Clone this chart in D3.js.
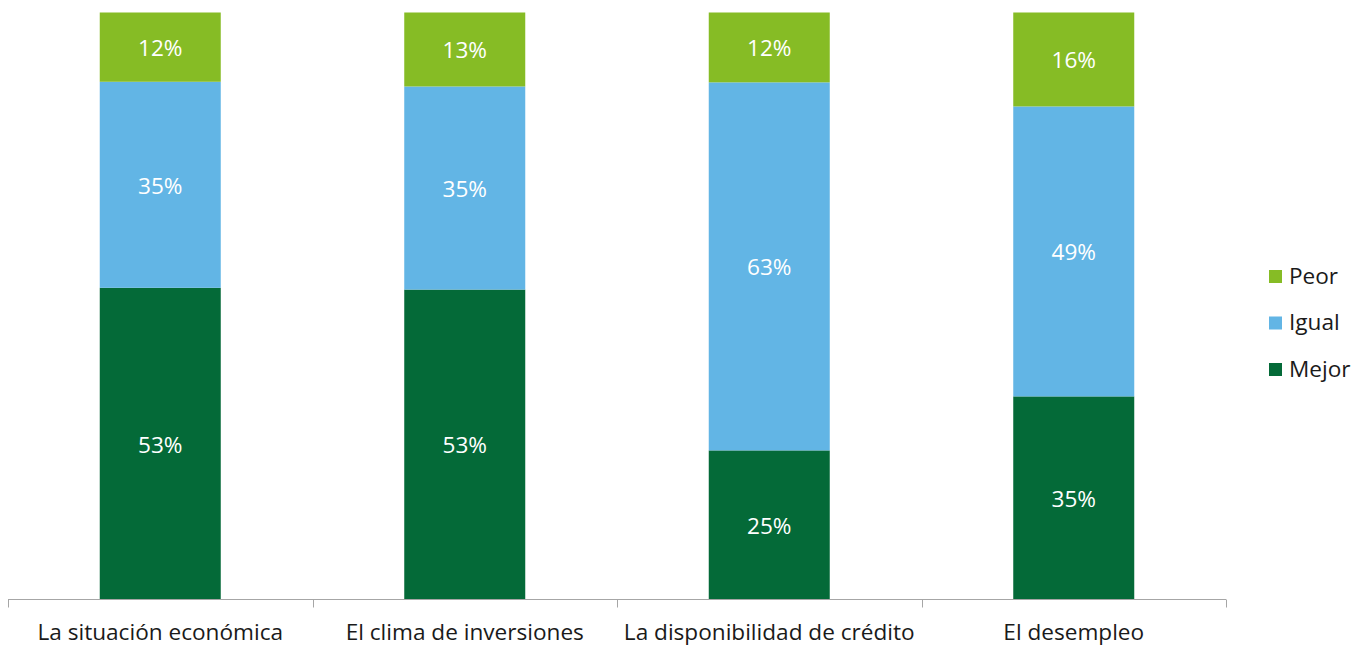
<!DOCTYPE html>
<html>
<head>
<meta charset="utf-8">
<script src="https://cdn.jsdelivr.net/npm/d3@7"></script>
<style>
  html, body { margin: 0; padding: 0; background: #fff; }
  svg { display: block; font-family: "Open Sans", sans-serif; }
</style>
</head>
<body>
<svg id="chart" width="1365" height="646"></svg>
<script>
const categories = ["La situación económica", "El clima de inversiones", "La disponibilidad de crédito", "El desempleo"];
const seriesNames = ["Mejor", "Igual", "Peor"];
const mejor = [53.1, 52.8, 25.4, 34.6];
const igual = [35.1, 34.6, 62.7, 49.4];
const peor  = [11.8, 12.6, 11.9, 16.0];
const labelMejor = ["53%", "53%", "25%", "35%"];
const labelIgual = ["35%", "35%", "63%", "49%"];
const labelPeor  = ["12%", "13%", "12%", "16%"];
const colors = { Mejor: "#046a38", Igual: "#62b5e5", Peor: "#86bc25" };

const rows = categories.map((c, i) => ({
  cat: c, Mejor: mejor[i], Igual: igual[i], Peor: peor[i],
  labels: { Mejor: labelMejor[i], Igual: labelIgual[i], Peor: labelPeor[i] }
}));

const svg = d3.select("#chart");
const x = d3.scaleBand().domain(categories).range([8, 1226]).paddingInner(0).paddingOuter(0);
const y = d3.scaleLinear().domain([0, 100]).range([599.5, 12.5]);
const barW = 121;
const fs = 22.6;

const stack = d3.stack().keys(seriesNames);
const layers = stack(rows);

const g = svg.append("g");
layers.forEach(layer => {
  const key = layer.key;
  const lg = g.append("g");
  lg.selectAll("rect").data(layer).join("rect")
    .attr("x", d => x(d.data.cat) + x.bandwidth() / 2 - barW / 2)
    .attr("width", barW)
    .attr("y", d => y(d[1]))
    .attr("height", d => y(d[0]) - y(d[1]))
    .attr("fill", colors[key]);
  lg.selectAll("text").data(layer).join("text")
    .attr("x", d => x(d.data.cat) + x.bandwidth() / 2)
    .attr("y", d => (y(d[0]) + y(d[1])) / 2 + 1)
    .attr("dy", "0.35em")
    .attr("text-anchor", "middle")
    .attr("fill", "#fff")
    .attr("font-size", fs)
    .text(d => d.data.labels[key]);
});

// axis
const axisG = svg.append("g").attr("transform", "translate(0,599.5)");
axisG.append("line").attr("x1", 8).attr("x2", 1226).attr("stroke", "#a6a6a6").attr("stroke-width", 1);
const tickXs = categories.map(c => x(c)).concat([x.range()[1]]);
axisG.selectAll("line.tick").data(tickXs).join("line")
  .attr("class", "tick")
  .attr("x1", d => Math.round(d) + 0.5).attr("x2", d => Math.round(d) + 0.5)
  .attr("y1", 0).attr("y2", 8)
  .attr("stroke", "#a6a6a6");
axisG.selectAll("text").data(categories).join("text")
  .attr("x", d => x(d) + x.bandwidth() / 2)
  .attr("y", 40)
  .attr("text-anchor", "middle")
  .attr("fill", "#1a1a1a")
  .attr("font-size", fs)
  .text(d => d);

// legend
const legendItems = ["Peor", "Igual", "Mejor"];
const leg = svg.append("g").attr("transform", "translate(1269,276)");
legendItems.forEach((k, i) => {
  const it = leg.append("g").attr("transform", `translate(0,${i * 46.5})`);
  it.append("rect").attr("x", 0).attr("y", -6).attr("width", 13).attr("height", 13).attr("fill", colors[k]);
  it.append("text").attr("x", 20).attr("y", 0).attr("dy", "0.35em")
    .attr("font-size", fs).attr("fill", "#1a1a1a").text(k);
});
</script>
</body>
</html>
